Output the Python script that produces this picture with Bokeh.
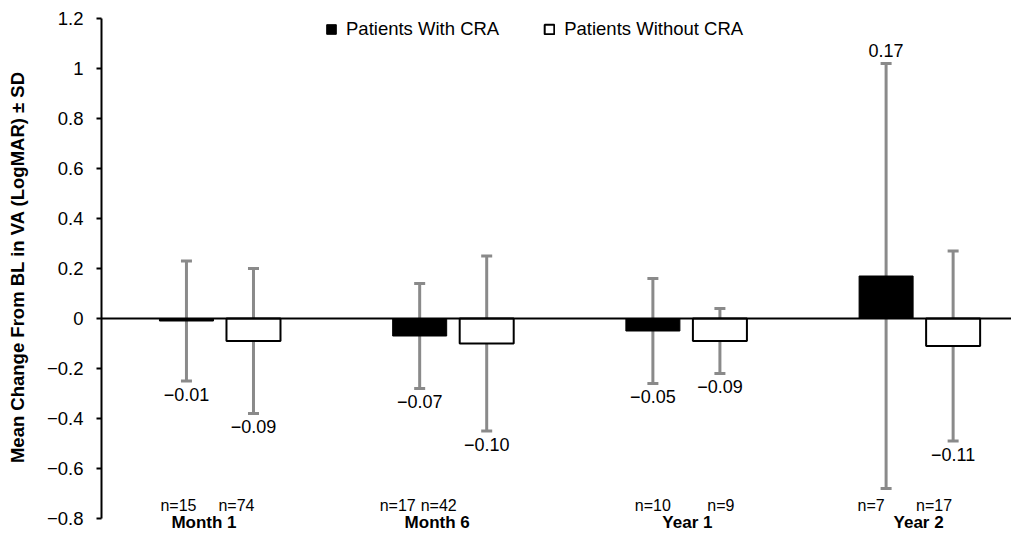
import numpy as np
from bokeh.plotting import figure
from bokeh.models import (Range1d, Span, Whisker, TeeHead, ColumnDataSource, Legend,
                          LegendItem, FixedTicker, CustomJSTickFormatter)
from bokeh.core.properties import value
from bokeh.embed import file_html
from bokeh.resources import INLINE

# ---------------- data ----------------
categories = ["Month 1", "Month 6", "Year 1", "Year 2"]
series_names = ["Patients With CRA", "Patients Without CRA"]
mean_with = [-0.01, -0.07, -0.05, 0.17]
sd_with = [0.24, 0.21, 0.21, 0.85]
mean_without = [-0.09, -0.10, -0.09, -0.11]
sd_without = [0.29, 0.35, 0.13, 0.38]
n_with = [15, 17, 10, 7]
n_without = [74, 42, 9, 17]
y_ticks = [-0.8, -0.6, -0.4, -0.2, 0, 0.2, 0.4, 0.6, 0.8, 1.0, 1.2]
y_title = "Mean Change From BL in VA (LogMAR) \u00b1 SD"

# layout nudges (screen px) for hand-placed annotation texts
n_nudge_with = [-8, -22, 0, -15]
n_nudge_without = [-17, -48, 1, -19]
cat_nudge = [-16, -16, 1, -1]

FONT = "Liberation Sans"
GRAY = "#8a8a8a"

W, H = 1011, 533
p = figure(width=W, height=H, output_backend="svg", toolbar_location=None,
           x_range=Range1d(-0.508, 3.394), y_range=Range1d(-0.86, 1.272),
           x_axis_location=None, min_border_left=101, min_border_right=0,
           min_border_top=0, min_border_bottom=0)
p.grid.visible = False
p.outline_line_color = None
p.background_fill_color = "white"
p.border_fill_color = "white"

# y axis
ax = p.yaxis[0]
ax.ticker = FixedTicker(ticks=y_ticks)
ax.formatter = CustomJSTickFormatter(code="""
let s = tick.toFixed(1);
if (s.endsWith('.0')) s = s.slice(0, -2);
if (s === '-0') s = '0';
return s.replace('-', '\u2212');
""")
ax.bounds = (min(y_ticks), max(y_ticks))
ax.axis_line_width = 2
ax.axis_line_color = "black"
ax.major_tick_line_width = 2
ax.major_tick_line_color = "black"
ax.major_tick_out = 5
ax.major_tick_in = 0
ax.minor_tick_line_color = None
ax.major_label_text_font = FONT
ax.major_label_text_font_size = "18.5px"
ax.major_label_text_color = "black"
ax.major_label_standoff = 13
ax.axis_label = y_title
ax.axis_label_text_font = FONT
ax.axis_label_text_font_size = "18.5px"
ax.axis_label_text_font_style = "bold"
ax.axis_label_text_color = "black"
ax.axis_label_standoff = 16

# bars
x = np.arange(len(categories), dtype=float)
off = 0.1437
bw = 0.2316
x_with = x - off
x_without = x + off

r1 = p.vbar(x=x_with, top=mean_with, bottom=0, width=bw,
            fill_color="black", line_color="black", line_width=1)
r2 = p.vbar(x=x_without, top=mean_without, bottom=0, width=bw,
            fill_color="white", line_color="black", line_width=2)

# zero line
p.add_layout(Span(location=0, dimension="width", line_color="black", line_width=2))

# error bars
xs = np.concatenate([x_with, x_without])
means = np.array(mean_with + mean_without)
sds = np.array(sd_with + sd_without)
err_src = ColumnDataSource(dict(x=xs, upper=means + sds, lower=means - sds))
wh = Whisker(base="x", upper="upper", lower="lower", source=err_src,
             line_color=GRAY, line_width=3,
             upper_head=TeeHead(size=11, line_color=GRAY, line_width=3),
             lower_head=TeeHead(size=11, line_color=GRAY, line_width=3))
p.add_layout(wh)

# value labels
gap = 0.052
lab_y = np.where(means >= 0, means + sds + gap, means - sds - gap)
lab_txt = [f"{m:.2f}".replace("-", "\u2212") for m in means]
p.text(x=xs, y=lab_y, text=lab_txt, text_align="center", text_baseline="middle",
       text_font=value(FONT), text_font_size="18px", text_color="black")

# n labels
n_src = ColumnDataSource(dict(x=xs, y=[-0.748] * len(xs),
                              text=[f"n={n}" for n in n_with + n_without],
                              dx=n_nudge_with + n_nudge_without))
p.text(x="x", y="y", text="text", x_offset="dx", source=n_src, text_align="center",
       text_baseline="middle", text_font=value(FONT), text_font_size="16px",
       text_color="black")

# category labels
c_src = ColumnDataSource(dict(x=x, y=[-0.814] * len(x), text=categories, dx=cat_nudge))
p.text(x="x", y="y", text="text", x_offset="dx", source=c_src, text_align="center",
       text_baseline="middle", text_font=value(FONT), text_font_size="17px",
       text_font_style="bold", text_color="black")

# legend
legend = Legend(items=[LegendItem(label=series_names[0], renderers=[r1]),
                       LegendItem(label=series_names[1], renderers=[r2])],
                orientation="horizontal", location=(224, 493),
                glyph_width=12, glyph_height=12, label_standoff=9, spacing=44,
                padding=0, margin=0, border_line_color=None,
                background_fill_alpha=0,
                label_text_font=FONT, label_text_font_size="18.5px",
                label_text_color="black")
p.add_layout(legend)

with open("out.html", "w", encoding="utf-8") as f:
    f.write(file_html(p, INLINE))
